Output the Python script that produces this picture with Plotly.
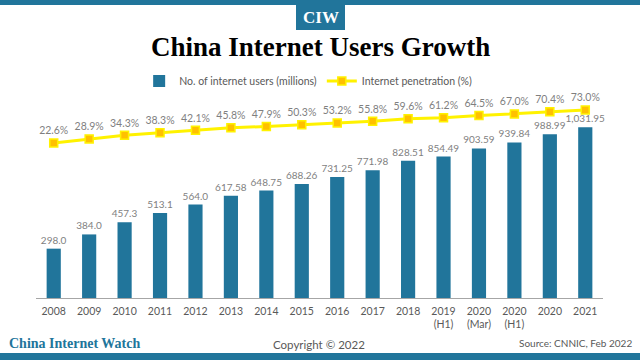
import plotly.graph_objects as go

categories = ["2008", "2009", "2010", "2011", "2012", "2013", "2014", "2015",
              "2016", "2017", "2018", "2019<br>(H1)", "2020<br>(Mar)",
              "2020<br>(H1)", "2020", "2021"]
users_millions = [298.0, 384.0, 457.3, 513.1, 564.0, 617.58, 648.75, 688.26,
                  731.25, 771.98, 828.51, 854.49, 903.59, 939.84, 988.99, 1031.95]
users_labels = ["298.0", "384.0", "457.3", "513.1", "564.0", "617.58", "648.75",
                "688.26", "731.25", "771.98", "828.51", "854.49", "903.59",
                "939.84", "988.99", "1,031.95"]
penetration_pct = [22.6, 28.9, 34.3, 38.3, 42.1, 45.8, 47.9, 50.3, 53.2, 55.8,
                   59.6, 61.2, 64.5, 67.0, 70.4, 73.0]

TEAL = "#21759B"
GREY = "#7F7F7F"
DARK = "#595959"
FONT = "Lato"

# plot area in pixels
L, R, T, B = 36, 603, 108, 298
W, H = 640, 360


def px(x):
    return (x - L) / (R - L)


def py(y):
    return (B - y) / (B - T)


fig = go.Figure()
fig.add_trace(go.Bar(
    x=categories, y=users_millions, name="No. of internet users (millions)",
    marker=dict(color=TEAL, line=dict(width=0)), width=0.4,
    text=users_labels, textposition="outside", cliponaxis=False,
    constraintext="none",
    textfont=dict(family=FONT, size=10, color=GREY),
))
fig.add_trace(go.Scatter(
    x=categories, y=penetration_pct, name="Internet penetration (%)",
    yaxis="y2", mode="lines+markers+text",
    line=dict(color="#FFF200", width=3),
    marker=dict(symbol="square", size=8, color="#FFC000",
                line=dict(color="#FFF200", width=1.5)),
    text=[f"{v:.1f}%" for v in penetration_pct], textposition="top center",
    textfont=dict(family=FONT, size=10.5, color=GREY), cliponaxis=False,
))

span_per_px = 1 / 0.6548
y2_lo = 73.0 - (B - 110) * span_per_px
y2_hi = y2_lo + (B - T) * span_per_px

fig.update_layout(
    width=W, height=H,
    margin=dict(l=L, r=W - R, t=T, b=H - B, pad=0, autoexpand=False),
    paper_bgcolor="white", plot_bgcolor="white",
    showlegend=True,
    legend=dict(orientation="h", x=0.48, xanchor="center", y=py(81),
                yanchor="middle", font=dict(family=FONT, size=10.5, color=DARK),
                itemwidth=30, tracegroupgap=0, bgcolor="rgba(0,0,0,0)"),
    bargap=0.6,
    xaxis=dict(showline=True, linecolor="#A6A6A6", linewidth=1, ticks="",
               range=[-0.5, len(categories) - 0.5], ticklabelstandoff=3,
               tickfont=dict(family=FONT, size=10.5, color=DARK),
               showgrid=False, zeroline=False, fixedrange=True),
    yaxis=dict(range=[0, (B - T) * 6.04], visible=False, showgrid=False),
    yaxis2=dict(range=[y2_lo, y2_hi], overlaying="y", visible=False,
                showgrid=False),
    shapes=[
        dict(type="rect", xref="paper", yref="paper", x0=px(0), x1=px(640),
             y0=py(0), y1=py(5), fillcolor=TEAL, line=dict(width=0), layer="above"),
        dict(type="rect", xref="paper", yref="paper", x0=px(0), x1=px(640),
             y0=py(353), y1=py(360), fillcolor=TEAL, line=dict(width=0), layer="above"),
        dict(type="rect", xref="paper", yref="paper", x0=px(296), x1=px(345),
             y0=py(5), y1=py(30), fillcolor=TEAL, line=dict(width=0), layer="above"),
    ],
    annotations=[
        dict(text="<b>CIW</b>", xref="paper", yref="paper", x=px(320.5), y=py(17.5),
             showarrow=False, xanchor="center", yanchor="middle",
             font=dict(family="Liberation Serif", size=17, color="white")),
        dict(text="<b>China Internet Users Growth</b>", xref="paper", yref="paper",
             x=px(320), y=py(47), showarrow=False, xanchor="center", yanchor="middle",
             font=dict(family="Liberation Serif", size=27, color="black")),
        dict(text="<b>China Internet Watch</b>", xref="paper", yref="paper",
             x=px(7), y=py(343), showarrow=False, xanchor="left", yanchor="middle",
             font=dict(family="Liberation Serif", size=14, color=TEAL)),
        dict(text="Copyright © 2022", xref="paper", yref="paper",
             x=px(319), y=py(344), showarrow=False, xanchor="center", yanchor="middle",
             font=dict(family=FONT, size=11.5, color=DARK)),
        dict(text="Source: CNNIC, Feb 2022", xref="paper", yref="paper",
             x=px(634), y=py(343), showarrow=False, xanchor="right", yanchor="middle",
             font=dict(family=FONT, size=10, color=DARK)),
    ],
)

fig.write_html("out.html", config={"displayModeBar": False},
               post_script="document.body.style.margin='0';document.body.style.padding='0';")
